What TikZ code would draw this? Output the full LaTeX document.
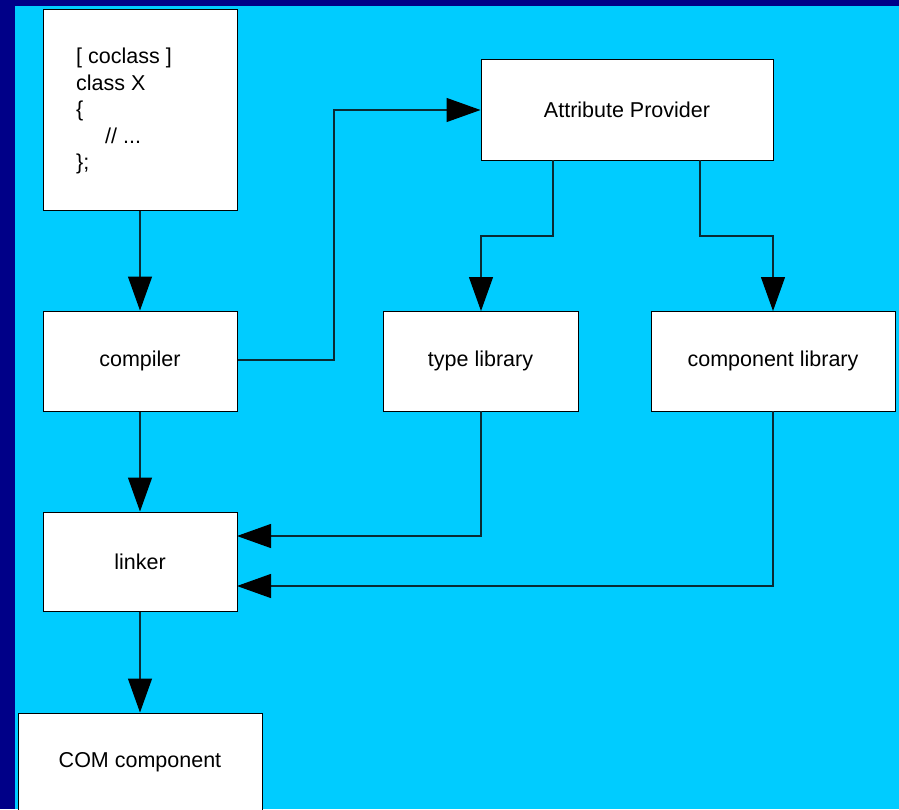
\documentclass[tikz,border=0pt]{standalone}
\usepackage{fontspec}
\setmainfont{Liberation Sans}
\usetikzlibrary{arrows.meta}
\definecolor{navy}{HTML}{000088}
\definecolor{sky}{HTML}{00CCFF}
\definecolor{lineclr}{HTML}{0A2A33}
\begin{document}
\begin{tikzpicture}[x=1pt,y=-1pt,
  box/.style={draw=black,line width=1pt,fill=white,inner sep=0pt,font=\fontsize{21.5}{26.5}\selectfont},
  conn/.style={draw=lineclr,line width=1.2pt,-{Triangle[length=34pt,width=24pt,fill=black,color=black]}}]
\useasboundingbox (0,0) rectangle (899,809);
\clip (0,0) rectangle (899,809);
\fill[navy] (0,0) rectangle (899,809);
\fill[sky] (15,6) rectangle (899,809);
% boxes
\node[box,minimum width=194pt,minimum height=201pt] (code) at (140,109.5) {};
\node[anchor=north west,inner sep=0pt,align=left,font=\fontsize{21.5}{26.5}\selectfont] (codetext) at (76,48)
 {[ coclass ]\\class X\\\{\\\hspace*{29pt}// ...\\\};};
\node[box,minimum width=292pt,minimum height=101pt] (ap) at (627,109.5) {Attribute Provider};
\node[box,minimum width=194pt,minimum height=100pt] (comp) at (140,361) {compiler};
\node[box,minimum width=195pt,minimum height=100pt] (tlib) at (480.5,361) {type library};
\node[box,minimum width=244pt,minimum height=100pt] (clib) at (773,361) {component library};
\node[box,minimum width=194pt,minimum height=99pt] (link) at (140,561.5) {linker};
\node[box,minimum width=244pt,minimum height=120pt] (com) at (140,773) {};
\node[font=\fontsize{21.5}{26.5}\selectfont,inner sep=0pt] (comtext) at (140,762) {COM component};
% connectors
\coordinate (c1) at (334,360);
\coordinate (c2) at (334,110);
\draw[conn] (code.south) -- (comp.north);
\draw[conn] (comp.east |- c1) -- (c1) -- (c2) -- (ap.west |- c2);
\draw[conn] (553,160) -- (553,236) -- (481,236) -- (481,311);
\draw[conn] (700,160) -- (700,236) -- (773,236) -- (773,311);
\draw[conn] (comp.south) -- (link.north);
\draw[conn] (481,411) -- (481,536) -- (237,536);
\draw[conn] (773,411) -- (773,586) -- (237,586);
\draw[conn] (link.south) -- (com.north);
\end{tikzpicture}
\end{document}
